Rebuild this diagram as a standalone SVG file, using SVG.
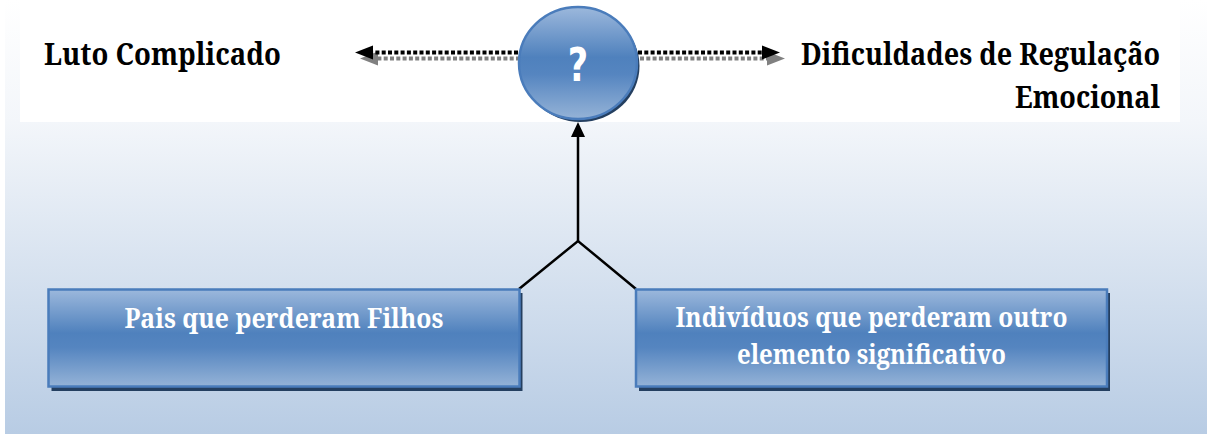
<svg xmlns="http://www.w3.org/2000/svg" width="1207" height="434" viewBox="0 0 1207 434">
  <defs>
    <linearGradient id="bg" x1="0" y1="0" x2="0" y2="1">
      <stop offset="0" stop-color="#ffffff"/>
      <stop offset="0.28" stop-color="#f3f6fa"/>
      <stop offset="1" stop-color="#b8cce4"/>
    </linearGradient>
    <linearGradient id="node" x1="0" y1="0" x2="0" y2="1">
      <stop offset="0" stop-color="#9cb8dc"/>
      <stop offset="0.45" stop-color="#4f81bd"/>
      <stop offset="0.6" stop-color="#5585c0"/>
      <stop offset="1" stop-color="#95b3d7"/>
    </linearGradient>
  </defs>
  <style>
    .lbl { font-family: "Noto Serif", "DejaVu Serif", serif; font-weight: bold; font-size: 30px; fill: #000; }
    .box { fill: url(#node); stroke: #4a7cbb; stroke-width: 2.5; }
    .shadow { fill: #243f60; }
    .boxtxt { font-family: "Noto Serif", "DejaVu Serif", serif; font-weight: bold; font-size: 27px; fill: #ffffff; text-anchor: middle; }
    .dotB { stroke: #000; stroke-width: 4; stroke-dasharray: 4 2.3; fill: none; }
    .dotG { stroke: #808080; stroke-width: 4; stroke-dasharray: 4 2.3; fill: none; }
    .conn { stroke: #000; stroke-width: 2.5; fill: none; }
  </style>

  <rect x="5" y="0" width="1202" height="434" fill="url(#bg)"/>
  <rect x="20" y="0" width="1160" height="122" fill="#ffffff"/>

  <g id="connectors">
    <line class="dotG" x1="520" y1="58.5" x2="372" y2="58.5"/>
    <polygon points="360,58.5 378,51.5 378,65.5" fill="#808080"/>
    <line class="dotG" x1="640" y1="58.5" x2="772" y2="58.5"/>
    <polygon points="785,58.5 767,51.5 767,65.5" fill="#808080"/>
    <line class="dotB" x1="518" y1="52.5" x2="368" y2="52.5"/>
    <polygon points="355,52.5 373,45.5 373,59.5" fill="#000"/>
    <line class="dotB" x1="638" y1="52.5" x2="768" y2="52.5"/>
    <polygon points="780,52.5 762,45.5 762,59.5" fill="#000"/>
    <polyline class="conn" points="519,289 578,241 636,289"/>
    <line class="conn" x1="578" y1="241" x2="578" y2="135"/>
    <polygon points="578,122 571,137 585,137" fill="#000"/>
  </g>

  <g id="node-luto">
    <text class="lbl" x="44" y="65" textLength="237" lengthAdjust="spacingAndGlyphs">Luto Complicado</text>
  </g>

  <g id="node-dificuldades">
    <text class="lbl" x="1160" y="65" text-anchor="end" textLength="359" lengthAdjust="spacingAndGlyphs">Dificuldades de Regulação</text>
    <text class="lbl" x="1160" y="108" text-anchor="end" textLength="145" lengthAdjust="spacingAndGlyphs">Emocional</text>
  </g>

  <g id="node-question">
    <ellipse cx="580.5" cy="66" rx="59" ry="56" class="shadow"/>
    <ellipse cx="578" cy="63" rx="59" ry="56" class="box"/>
    <text x="578" y="81" text-anchor="middle" font-family="DejaVu Sans Condensed, Liberation Sans Narrow, sans-serif" font-weight="bold" font-size="46" fill="#ffffff" transform="translate(578 0) scale(0.85 1) translate(-578 0)">?</text>
  </g>

  <g id="node-pais">
    <rect x="51.5" y="293" width="471" height="98" class="shadow"/>
    <rect x="48.5" y="289.5" width="471" height="97" class="box"/>
    <text class="boxtxt" x="284" y="328" textLength="319" lengthAdjust="spacingAndGlyphs">Pais que perderam Filhos</text>
  </g>

  <g id="node-individuos">
    <rect x="639" y="293" width="471" height="98" class="shadow"/>
    <rect x="636" y="289.5" width="471" height="97" class="box"/>
    <text class="boxtxt" x="871.5" y="327" textLength="392" lengthAdjust="spacingAndGlyphs">Indivíduos que perderam outro</text>
    <text class="boxtxt" x="871.5" y="363.5" textLength="269" lengthAdjust="spacingAndGlyphs">elemento significativo</text>
  </g>
</svg>
